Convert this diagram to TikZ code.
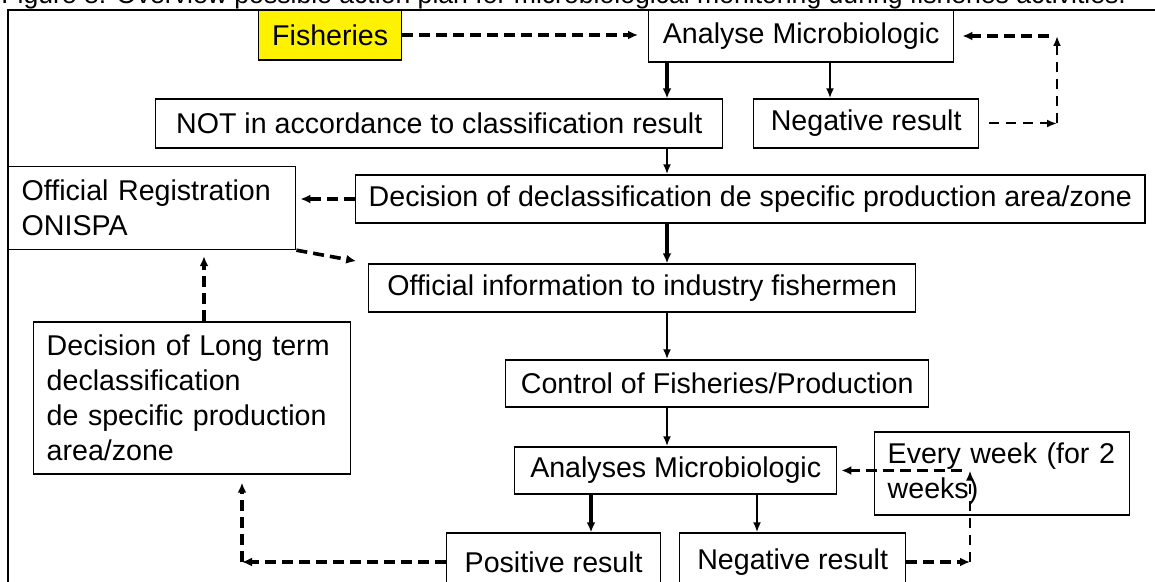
\documentclass[tikz,border=0pt]{standalone}
\usepackage{fontspec}
\setmainfont{Liberation Sans}
\usetikzlibrary{positioning,arrows.meta}

\begin{document}
\begin{tikzpicture}[
		x=0.5pt, y=-0.5pt,
		txt/.style={font=\fontsize{14.3}{17.5}\selectfont},
		box/.style={draw, line width=0.7pt, fill=white, txt, inner xsep=6.5pt, inner ysep=0pt, anchor=west, align=center},
		leftbox/.style={box, align=left},
		arr/.style={line width=1pt, -{Latex[length=5pt,width=4pt]}},
		arrbold/.style={line width=1.6pt, -{Latex[length=5pt,width=4.5pt]}},
		dasharr/.style={line width=1pt, dash pattern=on 5pt off 3.5pt, -{Latex[length=5pt,width=4pt]}},
		dasharrbold/.style={line width=1.8pt, dash pattern=on 5.5pt off 3pt, -{Latex[length=5pt,width=4.5pt]}}
		]
		\useasboundingbox (0,0) rectangle (1155,582);
		\clip (0,0) rectangle (1155,582);
		\node[font=\fontsize{13.3}{16}\selectfont, anchor=base west, inner sep=0pt] (title) at (1,4) {Figure 8: Overview possible action plan for microbiological monitoring during fisheries activities.};
		\draw[line width=1pt] (8,10) rectangle (1170,600);
		\node[box, fill=yellow, minimum width=71.5pt, minimum height=25pt] (fish) at (258,35) {Fisheries};
		\node[box, minimum width=152.5pt, minimum height=26pt] (analyse) at (648,36) {Analyse Microbiologic};
		\node[box, minimum width=283.5pt, minimum height=24.5pt] (notacc) at (155,123.5) {NOT in accordance to classification result};
		\node[box, minimum width=112.5pt, minimum height=24.5pt] (neg1) at (753,123.5) {Negative result};
		\node[leftbox, text width=130.5pt, minimum height=41.5pt] (offreg) at (8,208) {Official Registration\\ONISPA};
		\node[box, minimum height=24pt] (decl) at (355,199) {Decision of declassification de specific production area/zone};
		\node[box, minimum width=273.5pt, minimum height=24pt] (offinfo) at (368,288) {Official information to industry fishermen};
		\node[leftbox, text width=145.5pt, minimum height=76pt] (longterm) at (33,398) {Decision of Long term\\declassification\\de specific production\\area/zone};
		\node[box, minimum width=211.5pt, minimum height=23.5pt] (control) at (505,383.5) {Control of Fisheries/Production};
		\node[box, minimum width=161pt, minimum height=23.5pt] (analyses) at (514,470.5) {Analyses Microbiologic};
		\node[leftbox, text width=114.5pt, minimum height=41.5pt] (everyweek) at (874,473.5) {Every week (for 2\\weeks)};
		\node[box, minimum width=107pt, minimum height=29pt] (positive) at (446,562) {Positive result};
		\node[box, minimum width=113pt, minimum height=29pt] (neg2) at (679,562) {Negative result};
		\coordinate (trunk) at (667,0);
		\coordinate (negtop) at (830,0);
		\coordinate (posx) at (591,0);
		\coordinate (negbot) at (757,0);
		\coordinate (upx) at (204,0);
		\coordinate (leftx) at (242,0);
		\coordinate (botx) at (970,0);
		\coordinate (topx) at (1057,36);
		\draw[arrbold] (analyse.south -| trunk) -- (notacc.north -| trunk);
		\draw[arr] (analyse.south -| negtop) -- (neg1.north -| negtop);
		\draw[arr] (notacc.south -| trunk) -- (decl.north -| trunk);
		\draw[arrbold] (decl.south -| trunk) -- (offinfo.north -| trunk);
		\draw[arr] (offinfo.south -| trunk) -- (control.north -| trunk);
		\draw[arr] (control.south -| trunk) -- (analyses.north -| trunk);
		\draw[arrbold] (analyses.south -| posx) -- (positive.north -| posx);
		\draw[arr] (analyses.south -| negbot) -- (neg2.north -| negbot);
		\draw[dasharrbold, shorten >=5pt] (fish.east) -- (fish.east -| analyse.west);
		\draw[dasharr, shorten <=5pt] (neg1.east) -- (neg1.east -| topx);
		\draw[dasharr] (neg1.east -| topx) -- (topx);
		\draw[dasharrbold, shorten <=4pt, shorten >=4pt] (topx) -- (analyse.east |- topx);
		\draw[dasharrbold] (neg2.east) -- (neg2.east -| botx);
		\draw[dasharr] (neg2.east -| botx) -- (analyses.east -| botx);
		\draw[dasharrbold, shorten <=4pt, shorten >=2pt] (analyses.east -| botx) -- (analyses.east);
		\draw[dasharrbold] (positive.west) -- (positive.west -| leftx);
		\draw[dasharrbold, shorten >=4pt] (positive.west -| leftx) -- (longterm.south -| leftx);
		\draw[dasharrbold, shorten >=3pt] (longterm.north -| upx) -- (offreg.south -| upx);
		\draw[dasharrbold, shorten >=2pt] (decl.west) -- (decl.west -| offreg.east);
		\draw[dasharrbold, shorten >=6pt] (offreg.south east) -- (offinfo.north west);
	\end{tikzpicture}
\end{document}
